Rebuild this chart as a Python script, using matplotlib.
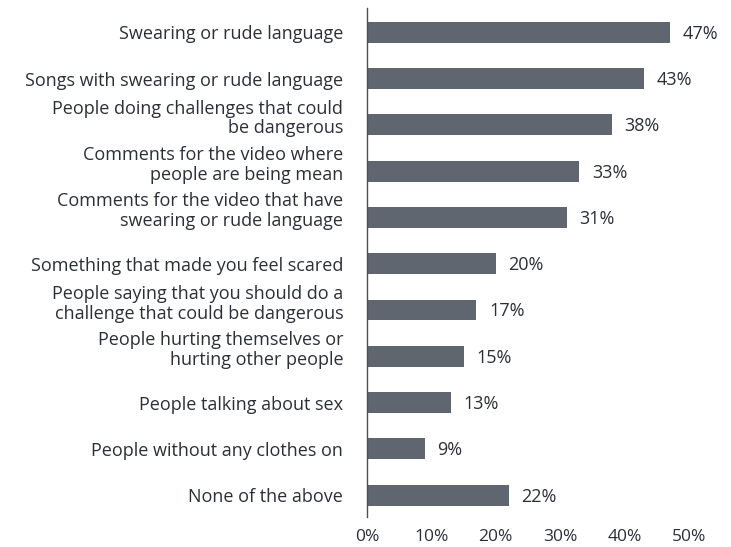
import matplotlib
matplotlib.use("Agg")
import matplotlib.pyplot as plt
import matplotlib.transforms as mtransforms

categories = [
    "Swearing or rude language",
    "Songs with swearing or rude language",
    "People doing challenges that could\nbe dangerous",
    "Comments for the video where\npeople are being mean",
    "Comments for the video that have\nswearing or rude language",
    "Something that made you feel scared",
    "People saying that you should do a\nchallenge that could be dangerous",
    "People hurting themselves or\nhurting other people",
    "People talking about sex",
    "People without any clothes on",
    "None of the above",
]
values = [47, 43, 38, 33, 31, 20, 17, 15, 13, 9, 22]
xticks = [0, 10, 20, 30, 40, 50]
xtick_labels = ["0%", "10%", "20%", "30%", "40%", "50%"]

plt.rcParams['font.family'] = ['Open Sans', 'DejaVu Sans']
text_color = "#2b2f38"
bar_color = "#60666f"

fig = plt.figure(figsize=(7.31, 5.47), dpi=100)
ax = fig.add_axes([0.502, 0.055, 0.4405, 0.930])
y = list(range(len(categories)))
ax.barh(y, values, height=0.45, color=bar_color)
for yi, v in zip(y, values):
    ax.annotate(f"{v}%", (v, yi), xytext=(9, -1), textcoords="offset points",
                va="center", ha="left", fontsize=13, color=text_color)

blend = mtransforms.blended_transform_factory(ax.transAxes, ax.transData)
for yi, lab in zip(y, categories):
    dy = 4.5 if "\n" in lab else -1.5
    ax.annotate(lab, (0, yi), xycoords=blend, xytext=(-17, dy),
                textcoords="offset points", ha="right", va="center",
                multialignment="right", fontsize=13, color=text_color,
                linespacing=1.12, annotation_clip=False)
ax.set_yticks([])
ax.set_xticks(xticks)
ax.set_xticklabels(xtick_labels, fontsize=12.5, color=text_color)
ax.set_xlim(0, 50)
ax.set_ylim(10.47, -0.52)
ax.tick_params(axis="both", length=0)
ax.tick_params(axis="x", pad=9)
for s in ["top", "right", "bottom"]:
    ax.spines[s].set_visible(False)
ax.spines["left"].set_color("#4a4f58")
ax.spines["left"].set_linewidth(1.0)
fig.savefig("out.png", dpi=100)
